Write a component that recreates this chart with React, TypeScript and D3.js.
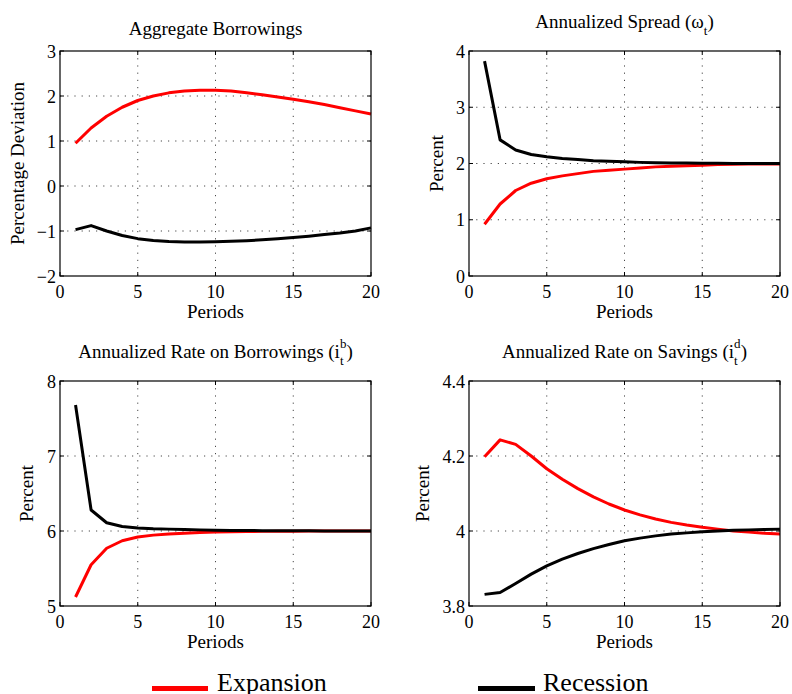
import React from "react";
import * as d3 from "d3";

const periods = [1, 2, 3, 4, 5, 6, 7, 8, 9, 10, 11, 12, 13, 14, 15, 16, 17, 18, 19, 20];

const borrowExp = [0.95, 1.29, 1.55, 1.75, 1.9, 2.0, 2.07, 2.11, 2.13, 2.13, 2.11, 2.07, 2.03, 1.98, 1.93, 1.87, 1.81, 1.74, 1.67, 1.6];
const borrowRec = [-0.97, -0.88, -1.0, -1.1, -1.17, -1.21, -1.235, -1.245, -1.245, -1.24, -1.23, -1.215, -1.195, -1.17, -1.145, -1.115, -1.08, -1.045, -1.0, -0.93];

const spreadExp = [0.92, 1.28, 1.52, 1.65, 1.73, 1.78, 1.82, 1.86, 1.88, 1.9, 1.92, 1.94, 1.95, 1.96, 1.97, 1.98, 1.985, 1.99, 1.99, 1.99];
const spreadRec = [3.82, 2.42, 2.24, 2.16, 2.12, 2.09, 2.07, 2.05, 2.04, 2.03, 2.02, 2.015, 2.01, 2.007, 2.005, 2.003, 2.002, 2.001, 2.0, 2.0];

const rateBExp = [5.12, 5.55, 5.77, 5.87, 5.92, 5.945, 5.96, 5.97, 5.98, 5.985, 5.99, 5.993, 5.995, 5.997, 5.998, 5.999, 6.0, 6.0, 6.0, 6.0];
const rateBRec = [7.68, 6.28, 6.11, 6.06, 6.04, 6.03, 6.025, 6.02, 6.015, 6.01, 6.008, 6.006, 6.005, 6.004, 6.003, 6.002, 6.001, 6.0, 6.0, 6.0];

const rateDExp = [4.198, 4.243, 4.231, 4.2, 4.166, 4.138, 4.113, 4.091, 4.072, 4.056, 4.043, 4.032, 4.023, 4.016, 4.01, 4.005, 4.0, 3.997, 3.994, 3.992];
const rateDRec = [3.831, 3.836, 3.86, 3.885, 3.907, 3.925, 3.94, 3.953, 3.964, 3.974, 3.981, 3.987, 3.992, 3.995, 3.998, 4.0, 4.002, 4.003, 4.004, 4.005];

const xTicks = [0, 5, 10, 15, 20];
const yTicks1 = [-2, -1, 0, 1, 2, 3];
const yTicks2 = [0, 1, 2, 3, 4];
const yTicks3 = [5, 6, 7, 8];
const yTicks4 = [3.8, 4.0, 4.2, 4.4];

const legendLabels = ["Expansion", "Recession"];
const seriesColors = ["#ff0000", "#000000"];

const FONT = '"Liberation Serif", "DejaVu Serif", "Times New Roman", serif';

type PanelDef = {
  left: number;
  top: number;
  yDomain: [number, number];
  yTicks: number[];
  yFmt: (v: number) => string;
  exp: number[];
  rec: number[];
  ylabel: string;
  ylabelX: number;
  title: React.ReactNode;
};

const W = 311;
const H = 225;

function fmtInt(v: number) {
  return v < 0 ? "\u2212" + Math.abs(v) : String(v);
}
function fmt1(v: number) {
  return v === 4 ? "4" : v.toFixed(1);
}

function Panel({ p }: { p: PanelDef }) {
  const x = d3.scaleLinear().domain([0, 20]).range([p.left, p.left + W]);
  const y = d3.scaleLinear().domain(p.yDomain).range([p.top + H, p.top]);
  const line = d3
    .line<number>()
    .x((_, i) => x(periods[i]))
    .y((d) => y(d));
  const bottom = p.top + H;
  const right = p.left + W;
  const tickLen = 4;
  return (
    <g>
      {xTicks.slice(1, -1).map((t) => (
        <line key={"gx" + t} x1={x(t)} x2={x(t)} y1={p.top} y2={bottom} stroke="#333" strokeWidth={0.9} strokeDasharray="1.2,6" />
      ))}
      {p.yTicks.slice(1, -1).map((t) => (
        <line key={"gy" + t} x1={p.left} x2={right} y1={y(t)} y2={y(t)} stroke="#333" strokeWidth={0.9} strokeDasharray="1.2,6" />
      ))}
      {xTicks.map((t) => (
        <g key={"tx" + t}>
          <line x1={x(t)} x2={x(t)} y1={bottom} y2={bottom - tickLen} stroke="#000" />
          <line x1={x(t)} x2={x(t)} y1={p.top} y2={p.top + tickLen} stroke="#000" />
          <text x={x(t)} y={bottom + 22} textAnchor="middle" fontSize={18} style={{ fontFamily: FONT }}>
            {t}
          </text>
        </g>
      ))}
      {p.yTicks.map((t) => (
        <g key={"ty" + t}>
          <line x1={p.left} x2={p.left + tickLen} y1={y(t)} y2={y(t)} stroke="#000" />
          <line x1={right} x2={right - tickLen} y1={y(t)} y2={y(t)} stroke="#000" />
          <text x={p.left - 4} y={y(t) + 6.5} textAnchor="end" fontSize={18} style={{ fontFamily: FONT }}>
            {p.yFmt(t)}
          </text>
        </g>
      ))}
      <path d={line(p.exp) || ""} fill="none" stroke={seriesColors[0]} strokeWidth={3} strokeLinejoin="round" />
      <path d={line(p.rec) || ""} fill="none" stroke={seriesColors[1]} strokeWidth={3} strokeLinejoin="round" />
      <rect x={p.left} y={p.top} width={W} height={H} fill="none" stroke="#000" strokeWidth={1.2} />
      <text x={(p.left + right) / 2} y={bottom + 42} textAnchor="middle" fontSize={19} style={{ fontFamily: FONT }}>
        Periods
      </text>
      <text
        transform={`translate(${p.ylabelX},${(p.top + bottom) / 2}) rotate(-90)`}
        textAnchor="middle"
        fontSize={19}
        dy={6}
        style={{ fontFamily: FONT }}
      >
        {p.ylabel}
      </text>
      {p.title}
    </g>
  );
}

export default function App() {
  const panels: PanelDef[] = [
    {
      left: 60,
      top: 51,
      yDomain: [-2, 3],
      yTicks: yTicks1,
      yFmt: fmtInt,
      exp: borrowExp,
      rec: borrowRec,
      ylabel: "Percentage Deviation",
      ylabelX: 18,
      title: (
        <text x={215.5} y={35} textAnchor="middle" fontSize={19} style={{ fontFamily: FONT }}>
          Aggregate Borrowings
        </text>
      ),
    },
    {
      left: 469,
      top: 51,
      yDomain: [0, 4],
      yTicks: yTicks2,
      yFmt: fmtInt,
      exp: spreadExp,
      rec: spreadRec,
      ylabel: "Percent",
      ylabelX: 437,
      title: (
        <text x={624.5} y={28} textAnchor="middle" fontSize={19} style={{ fontFamily: FONT }}>
          <tspan>Annualized Spread (ω</tspan>
          <tspan dy={7} fontSize={13}>t</tspan>
          <tspan dy={-7}>)</tspan>
        </text>
      ),
    },
    {
      left: 60,
      top: 381,
      yDomain: [5, 8],
      yTicks: yTicks3,
      yFmt: fmtInt,
      exp: rateBExp,
      rec: rateBRec,
      ylabel: "Percent",
      ylabelX: 27,
      title: (
        <text x={215.5} y={358} textAnchor="middle" fontSize={19} style={{ fontFamily: FONT }}>
          <tspan>Annualized Rate on Borrowings (i</tspan>
          <tspan dy={-10} fontSize={13}>b</tspan>
          <tspan dx={-6.5} dy={17} fontSize={13}>t</tspan>
          <tspan dx={3} dy={-7}>)</tspan>
        </text>
      ),
    },
    {
      left: 469,
      top: 381,
      yDomain: [3.8, 4.4],
      yTicks: yTicks4,
      yFmt: fmt1,
      exp: rateDExp,
      rec: rateDRec,
      ylabel: "Percent",
      ylabelX: 423,
      title: (
        <text x={624.5} y={358} textAnchor="middle" fontSize={19} style={{ fontFamily: FONT }}>
          <tspan>Annualized Rate on Savings (i</tspan>
          <tspan dy={-10} fontSize={13}>d</tspan>
          <tspan dx={-6.5} dy={17} fontSize={13}>t</tspan>
          <tspan dx={3} dy={-7}>)</tspan>
        </text>
      ),
    },
  ];

  const legendX = [[152, 208, 217], [478, 535, 543]];

  return (
    <svg width={792} height={694} style={{ position: "absolute", left: 0, top: 0, background: "#fff", fontFamily: FONT }}>
      <rect width={792} height={694} fill="#fff" />
      {panels.map((p, i) => (
        <Panel key={i} p={p} />
      ))}
      {legendLabels.map((lab, i) => (
        <g key={lab}>
          <line x1={legendX[i][0]} x2={legendX[i][1]} y1={688.5} y2={688.5} stroke={seriesColors[i]} strokeWidth={5} />
          <text x={legendX[i][2]} y={691} fontSize={26} style={{ fontFamily: FONT }}>
            {lab}
          </text>
        </g>
      ))}
    </svg>
  );
}
